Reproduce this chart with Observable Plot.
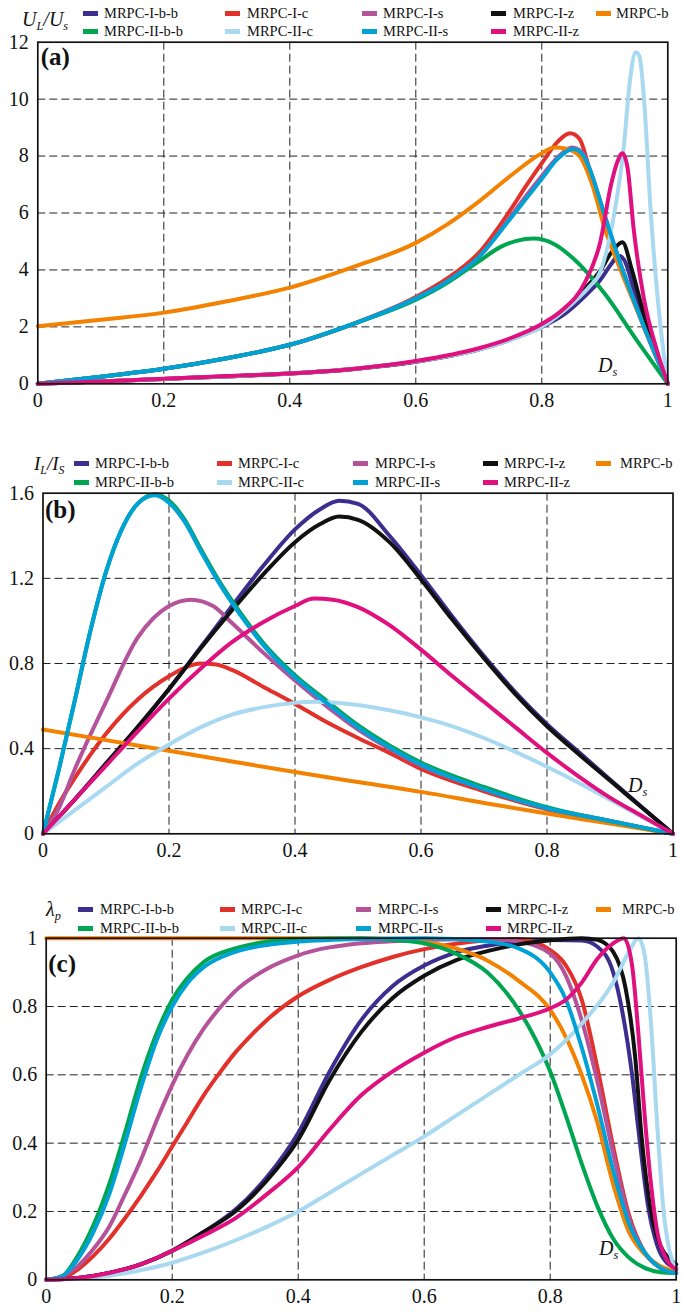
<!DOCTYPE html>
<html>
<head>
<meta charset="utf-8">
<script src="https://cdn.jsdelivr.net/npm/d3@7"></script>
<script src="https://cdn.jsdelivr.net/npm/@observablehq/plot@0.6"></script>
<style>
  body { margin: 0; background: #fff; }
  #fig { position: relative; width: 682px; height: 1312px; font-family: "Liberation Serif", "Times New Roman", serif; color: #111; overflow: hidden; }
  .panel { position: absolute; left: 0; }
  .lbl { position: absolute; white-space: nowrap; line-height: 1; z-index: 2; }
  .lbl sub { font-size: 0.62em; vertical-align: -0.32em; line-height: 0; }
  .sw { position: absolute; width: 15px; height: 5px; z-index: 2; }
</style>
</head>
<body>
<div id="fig"></div>
<script>
// Series shared by all three panels
const seriesNames = ["MRPC-I-b-b", "MRPC-I-c", "MRPC-I-s", "MRPC-I-z", "MRPC-b",
                     "MRPC-II-b-b", "MRPC-II-c", "MRPC-II-s", "MRPC-II-z"];
const seriesColors = ["#3b2e8f", "#e2312a", "#b4539a", "#111111", "#f28200",
                      "#00a550", "#a9d9f0", "#00a2d6", "#e0107f"];

// (a) U_L/U_S against D_s
const uIbb = [[0,0],[0.1,0.08],[0.2,0.17],[0.3,0.26],[0.4,0.36],[0.5,0.51],[0.6,0.77],[0.7,1.2],[0.75,1.55],[0.8,2.0],[0.833,2.4],[0.867,3.05],[0.893,3.65],[0.91,4.2],[0.922,4.5],[0.932,4.3],[0.945,3.4],[0.96,2.4],[0.98,1.15],[1,0]];
const uIc = [[0,0],[0.1,0.25],[0.2,0.53],[0.3,0.9],[0.4,1.37],[0.5,2.1],[0.6,3.05],[0.65,3.7],[0.7,4.6],[0.75,6.1],[0.775,6.95],[0.8,7.75],[0.825,8.5],[0.845,8.8],[0.86,8.6],[0.875,7.6],[0.9,5.85],[0.925,4.2],[0.95,2.7],[0.975,1.3],[1,0]];
const uIs = [[0,0],[0.1,0.25],[0.2,0.53],[0.3,0.9],[0.4,1.37],[0.5,2.1],[0.6,3.0],[0.65,3.6],[0.7,4.45],[0.75,5.85],[0.775,6.6],[0.8,7.3],[0.825,7.95],[0.848,8.3],[0.865,8.1],[0.875,7.6],[0.9,5.9],[0.925,4.2],[0.95,2.7],[0.975,1.3],[1,0]];
const uIz = [[0,0],[0.1,0.08],[0.2,0.17],[0.3,0.26],[0.4,0.36],[0.5,0.52],[0.6,0.78],[0.7,1.22],[0.75,1.57],[0.8,2.05],[0.833,2.5],[0.867,3.3],[0.893,3.98],[0.91,4.6],[0.928,4.97],[0.943,4.0],[0.96,2.6],[0.98,1.2],[1,0]];
const uB = [[0,2.02],[0.1,2.25],[0.2,2.5],[0.3,2.9],[0.4,3.38],[0.5,4.1],[0.6,4.95],[0.65,5.6],[0.7,6.4],[0.75,7.3],[0.8,8.1],[0.82,8.3],[0.84,8.25],[0.86,8.0],[0.88,7.0],[0.9,5.45],[0.925,4.0],[0.95,2.65],[0.975,1.3],[1,0]];
const uIIbb = [[0,0],[0.1,0.25],[0.2,0.53],[0.3,0.9],[0.4,1.37],[0.5,2.1],[0.6,2.95],[0.65,3.55],[0.7,4.3],[0.734,4.8],[0.76,5.02],[0.787,5.1],[0.82,4.9],[0.85,4.4],[0.9,3.16],[0.95,1.55],[1,0]];
const uIIc = [[0,0],[0.1,0.08],[0.2,0.17],[0.3,0.26],[0.4,0.36],[0.5,0.52],[0.6,0.78],[0.7,1.2],[0.75,1.55],[0.8,2.0],[0.85,2.85],[0.875,3.4],[0.893,3.95],[0.914,5.85],[0.93,8.3],[0.94,10.65],[0.949,11.65],[0.955,11.5],[0.962,10.07],[0.973,6.0],[0.989,1.9],[1,0]];
const uIIs = [[0,0],[0.1,0.25],[0.2,0.53],[0.3,0.9],[0.4,1.37],[0.5,2.1],[0.6,3.0],[0.65,3.6],[0.7,4.45],[0.75,5.8],[0.775,6.5],[0.8,7.2],[0.825,7.9],[0.85,8.25],[0.865,8.05],[0.875,7.6],[0.9,5.9],[0.925,4.2],[0.95,2.7],[0.975,1.3],[1,0]];
const uIIz = [[0,0],[0.1,0.08],[0.2,0.18],[0.3,0.27],[0.4,0.36],[0.5,0.52],[0.6,0.8],[0.7,1.25],[0.75,1.6],[0.8,2.1],[0.833,2.6],[0.867,3.5],[0.893,5.0],[0.91,7.0],[0.92,7.8],[0.928,8.1],[0.936,7.6],[0.946,5.4],[0.962,3.0],[0.983,1.15],[1,0]];

// (b) I_L/I_S against D_s
const iIbb = [[0,0],[0.05,0.16],[0.1,0.33],[0.15,0.5],[0.2,0.68],[0.25,0.875],[0.3,1.07],[0.35,1.26],[0.4,1.43],[0.44,1.525],[0.47,1.565],[0.5,1.55],[0.55,1.4],[0.6,1.215],[0.65,1.02],[0.7,0.835],[0.75,0.665],[0.8,0.515],[0.85,0.385],[0.9,0.255],[0.95,0.127],[1,0]];
const iIc = [[0,0],[0.025,0.14],[0.05,0.26],[0.1,0.47],[0.15,0.63],[0.2,0.74],[0.225,0.78],[0.25,0.8],[0.275,0.795],[0.3,0.77],[0.35,0.69],[0.4,0.61],[0.45,0.525],[0.5,0.45],[0.55,0.38],[0.6,0.305],[0.7,0.2],[0.8,0.115],[0.9,0.055],[1,0]];
const iIs = [[0,0],[0.025,0.12],[0.05,0.3],[0.1,0.62],[0.15,0.92],[0.2,1.07],[0.235,1.1],[0.27,1.07],[0.3,0.99],[0.35,0.85],[0.4,0.72],[0.45,0.6],[0.5,0.49],[0.55,0.4],[0.6,0.32],[0.7,0.21],[0.8,0.12],[0.9,0.06],[1,0]];
const iIz = [[0,0],[0.05,0.16],[0.1,0.33],[0.15,0.5],[0.2,0.68],[0.25,0.87],[0.3,1.05],[0.35,1.22],[0.4,1.37],[0.44,1.455],[0.47,1.49],[0.5,1.475],[0.55,1.37],[0.6,1.195],[0.65,1.005],[0.7,0.825],[0.75,0.655],[0.8,0.505],[0.85,0.375],[0.9,0.25],[0.95,0.125],[1,0]];
const iB = [[0,0.49],[0.1,0.44],[0.2,0.39],[0.3,0.34],[0.4,0.29],[0.5,0.243],[0.6,0.197],[0.7,0.145],[0.8,0.095],[0.9,0.048],[1,0]];
const iIIbb = [[0,0],[0.025,0.3],[0.05,0.62],[0.075,0.95],[0.1,1.23],[0.125,1.43],[0.15,1.55],[0.178,1.595],[0.2,1.565],[0.225,1.475],[0.25,1.34],[0.275,1.21],[0.3,1.095],[0.325,0.99],[0.35,0.895],[0.4,0.745],[0.45,0.625],[0.5,0.51],[0.55,0.415],[0.6,0.335],[0.7,0.22],[0.8,0.125],[0.9,0.06],[1,0]];
const iIIc = [[0,0],[0.05,0.11],[0.1,0.22],[0.15,0.33],[0.2,0.42],[0.25,0.5],[0.3,0.56],[0.35,0.595],[0.4,0.615],[0.43,0.62],[0.46,0.617],[0.5,0.605],[0.55,0.58],[0.6,0.547],[0.65,0.505],[0.7,0.45],[0.75,0.385],[0.8,0.315],[0.85,0.24],[0.9,0.16],[0.95,0.08],[1,0]];
const iIIs = [[0,0],[0.025,0.3],[0.05,0.62],[0.075,0.95],[0.1,1.23],[0.125,1.43],[0.15,1.55],[0.178,1.59],[0.2,1.555],[0.225,1.465],[0.25,1.33],[0.275,1.2],[0.3,1.085],[0.325,0.98],[0.35,0.885],[0.4,0.735],[0.45,0.615],[0.5,0.5],[0.55,0.405],[0.6,0.325],[0.7,0.21],[0.8,0.12],[0.9,0.06],[1,0]];
const iIIz = [[0,0],[0.05,0.16],[0.1,0.32],[0.15,0.48],[0.2,0.635],[0.25,0.775],[0.3,0.9],[0.35,0.995],[0.4,1.07],[0.43,1.105],[0.46,1.1],[0.5,1.065],[0.55,0.98],[0.6,0.865],[0.65,0.74],[0.7,0.62],[0.75,0.5],[0.8,0.38],[0.85,0.27],[0.9,0.17],[0.95,0.085],[1,0]];

// (c) lambda_p against D_s
const lIbb = [[0,0],[0.05,0.005],[0.1,0.02],[0.15,0.045],[0.2,0.085],[0.25,0.14],[0.3,0.205],[0.35,0.3],[0.4,0.43],[0.45,0.61],[0.5,0.76],[0.55,0.86],[0.6,0.92],[0.65,0.958],[0.7,0.978],[0.75,0.99],[0.8,0.995],[0.85,0.993],[0.875,0.975],[0.9,0.9],[0.915,0.78],[0.93,0.6],[0.94,0.44],[0.955,0.22],[0.97,0.1],[0.985,0.05],[1,0.035]];
const lIc = [[0,0],[0.025,0.005],[0.05,0.03],[0.075,0.07],[0.1,0.12],[0.125,0.18],[0.15,0.245],[0.175,0.315],[0.2,0.39],[0.225,0.465],[0.25,0.54],[0.275,0.605],[0.3,0.665],[0.325,0.715],[0.35,0.76],[0.4,0.83],[0.45,0.878],[0.5,0.915],[0.55,0.945],[0.6,0.968],[0.65,0.984],[0.7,0.994],[0.75,0.998],[0.8,0.965],[0.825,0.92],[0.85,0.82],[0.875,0.62],[0.9,0.39],[0.925,0.19],[0.95,0.08],[0.975,0.035],[1,0.02]];
const lIs = [[0,0],[0.025,0.01],[0.05,0.04],[0.075,0.09],[0.1,0.155],[0.125,0.25],[0.15,0.35],[0.175,0.465],[0.2,0.57],[0.225,0.66],[0.25,0.735],[0.275,0.795],[0.3,0.845],[0.35,0.91],[0.4,0.95],[0.5,0.985],[0.6,0.995],[0.7,0.998],[0.75,0.99],[0.8,0.955],[0.825,0.89],[0.85,0.76],[0.875,0.58],[0.9,0.37],[0.925,0.18],[0.95,0.08],[0.975,0.035],[1,0.02]];
const lIz = [[0,0],[0.05,0.005],[0.1,0.02],[0.15,0.045],[0.2,0.085],[0.25,0.14],[0.3,0.2],[0.35,0.29],[0.4,0.41],[0.45,0.585],[0.5,0.725],[0.55,0.825],[0.6,0.89],[0.65,0.935],[0.7,0.962],[0.75,0.982],[0.8,0.994],[0.85,1.0],[0.875,0.995],[0.9,0.96],[0.92,0.85],[0.935,0.65],[0.945,0.42],[0.96,0.2],[0.975,0.1],[0.99,0.06],[1,0.045]];
const lB = [[0,1],[0.1,1],[0.2,1],[0.3,1],[0.4,1],[0.5,1],[0.55,0.998],[0.6,0.99],[0.65,0.97],[0.7,0.935],[0.75,0.875],[0.8,0.79],[0.825,0.71],[0.85,0.6],[0.875,0.46],[0.9,0.28],[0.925,0.14],[0.95,0.075],[0.975,0.04],[1,0.025]];
const lIIbb = [[0,0],[0.025,0.01],[0.05,0.07],[0.075,0.16],[0.1,0.28],[0.125,0.43],[0.15,0.59],[0.175,0.72],[0.2,0.82],[0.225,0.885],[0.25,0.93],[0.3,0.97],[0.35,0.99],[0.4,0.998],[0.5,1.0],[0.55,0.995],[0.6,0.985],[0.65,0.955],[0.7,0.9],[0.75,0.79],[0.775,0.71],[0.8,0.61],[0.825,0.48],[0.85,0.34],[0.875,0.215],[0.9,0.12],[0.925,0.065],[0.95,0.035],[0.975,0.022],[1,0.02]];
const lIIc = [[0,0],[0.05,0.003],[0.1,0.012],[0.15,0.028],[0.2,0.05],[0.25,0.08],[0.3,0.115],[0.35,0.155],[0.4,0.2],[0.45,0.255],[0.5,0.31],[0.55,0.365],[0.6,0.42],[0.65,0.48],[0.7,0.54],[0.75,0.6],[0.8,0.66],[0.85,0.75],[0.9,0.87],[0.925,0.96],[0.94,1.0],[0.95,0.95],[0.96,0.75],[0.97,0.45],[0.98,0.2],[0.99,0.08],[1,0.03]];
const lIIs = [[0,0],[0.025,0.01],[0.05,0.06],[0.075,0.14],[0.1,0.25],[0.125,0.4],[0.15,0.56],[0.175,0.7],[0.2,0.8],[0.225,0.87],[0.25,0.915],[0.3,0.96],[0.35,0.98],[0.4,0.99],[0.5,0.998],[0.6,1.0],[0.7,0.99],[0.75,0.97],[0.8,0.9],[0.825,0.82],[0.85,0.68],[0.875,0.51],[0.9,0.32],[0.925,0.165],[0.95,0.08],[0.975,0.035],[1,0.02]];
const lIIz = [[0,0],[0.05,0.005],[0.1,0.02],[0.15,0.045],[0.2,0.085],[0.25,0.13],[0.3,0.18],[0.35,0.25],[0.4,0.33],[0.45,0.44],[0.5,0.54],[0.55,0.61],[0.6,0.665],[0.65,0.71],[0.7,0.74],[0.75,0.765],[0.8,0.795],[0.825,0.82],[0.85,0.87],[0.875,0.94],[0.9,0.985],[0.917,1.0],[0.93,0.92],[0.94,0.72],[0.95,0.48],[0.96,0.28],[0.97,0.14],[0.985,0.06],[1,0.03]];

// Axis ticks
const xTicks = [0, 0.2, 0.4, 0.6, 0.8, 1];
const yTicksA = [0, 2, 4, 6, 8, 10, 12];
const yTicksB = [0, 0.4, 0.8, 1.2, 1.6];
const yTicksC = [0, 0.2, 0.4, 0.6, 0.8, 1];

const fig = document.getElementById("fig");

function rowsOf(seriesList) {
  const rows = [];
  seriesList.forEach((pts, i) => {
    for (const [x, y] of pts) rows.push({x, y, s: seriesNames[i]});
  });
  return rows;
}

function panel({top, height, mt, mb, ml, mr, yDomain, yTicks, series}) {
  const gridX = xTicks.slice(1, -1);
  const gridY = yTicks.slice(1, -1);
  const svg = Plot.plot({
    width: 682,
    height,
    marginTop: mt, marginBottom: mb, marginLeft: ml, marginRight: mr,
    style: {fontFamily: '"Liberation Serif", "Times New Roman", serif', fontSize: "20px", color: "#111", background: "transparent", overflow: "visible"},
    x: {domain: [0, 1], ticks: xTicks, tickFormat: d3.format("~g"), tickSize: 0, tickPadding: 9, label: null},
    y: {domain: yDomain, ticks: yTicks, tickFormat: d3.format("~g"), tickSize: 0, tickPadding: 9, label: null},
    color: {domain: seriesNames, range: seriesColors},
    marks: [
      Plot.ruleX(gridX, {stroke: "#222", strokeWidth: 1, strokeDasharray: "8 4"}),
      Plot.ruleY(gridY, {stroke: "#222", strokeWidth: 1, strokeDasharray: "8 4"}),
      Plot.line(rowsOf(series), {x: "x", y: "y", z: "s", stroke: "s", strokeWidth: 4, curve: "monotone-x"}),
      Plot.frame({stroke: "#111", strokeWidth: 1.7})
    ]
  });
  const wrap = document.createElement("div");
  wrap.className = "panel";
  wrap.style.top = top + "px";
  wrap.append(svg);
  fig.append(wrap);
}

function label(html, x, baseline, size, extra = "") {
  const d = document.createElement("div");
  d.className = "lbl";
  d.style.left = x + "px";
  d.style.top = (baseline - 0.8375 * size) + "px";
  d.style.fontSize = size + "px";
  d.style.cssText += extra;
  d.innerHTML = html;
  fig.append(d);
}

function legend(rowY, swX, txtX) {
  const order = [[0, 1, 2, 3, 4], [5, 6, 7, 8]];
  order.forEach((row, r) => {
    row.forEach((k, c) => {
      const sw = document.createElement("div");
      sw.className = "sw";
      sw.style.left = swX[c] + "px";
      sw.style.top = (rowY[r] - 2.5) + "px";
      sw.style.background = seriesColors[k];
      fig.append(sw);
      label(seriesNames[k], txtX[c], rowY[r] + 5, 14.5);
    });
  });
}

// (a)
panel({top: 0, height: 425, mt: 41.7, mb: 41.7, ml: 37.3, mr: 14.7, yDomain: [0, 12], yTicks: yTicksA,
  series: [uIbb, uIc, uIs, uIz, uB, uIIbb, uIIc, uIIs, uIIz]});
// (b)
panel({top: 440, height: 440, mt: 52.7, mb: 46.7, ml: 42.5, mr: 9.5, yDomain: [0, 1.6], yTicks: yTicksB,
  series: [iIbb, iIc, iIs, iIz, iB, iIIbb, iIIc, iIIs, iIIz]});
// (c)
panel({top: 880, height: 432, mt: 57.7, mb: 32.7, ml: 45.7, mr: 6.3, yDomain: [0, 1], yTicks: yTicksC,
  series: [lIbb, lIc, lIs, lIz, lB, lIIbb, lIIc, lIIs, lIIz]});

// Legends
legend([13, 31], [83, 225, 362, 491, 596], [104, 247, 383, 513, 616]);
legend([463, 482], [74, 217, 353, 483, 596], [95, 238, 375, 504, 620]);
legend([909, 928], [78, 220, 356, 486, 596], [100, 241, 378, 507, 622]);

// Axis titles
label("<i>U<sub>L</sub>/U<sub>s</sub></i>", 22, 26, 20);
label("<i>I<sub>L</sub>/I<sub>S</sub></i>", 34, 470, 19);
label("<i>λ<sub>p</sub></i>", 46, 916, 20);

// Panel letters
label("<b>(a)</b>", 40.7, 65, 25);
label("<b>(b)</b>", 45, 518, 25);
label("<b>(c)</b>", 48.3, 971.7, 25);

// D_s annotations
label("<i>D<sub>s</sub></i>", 598, 372, 20);
label("<i>D<sub>s</sub></i>", 628, 792, 20);
label("<i>D<sub>s</sub></i>", 599, 1255, 20);
</script>
</body>
</html>
